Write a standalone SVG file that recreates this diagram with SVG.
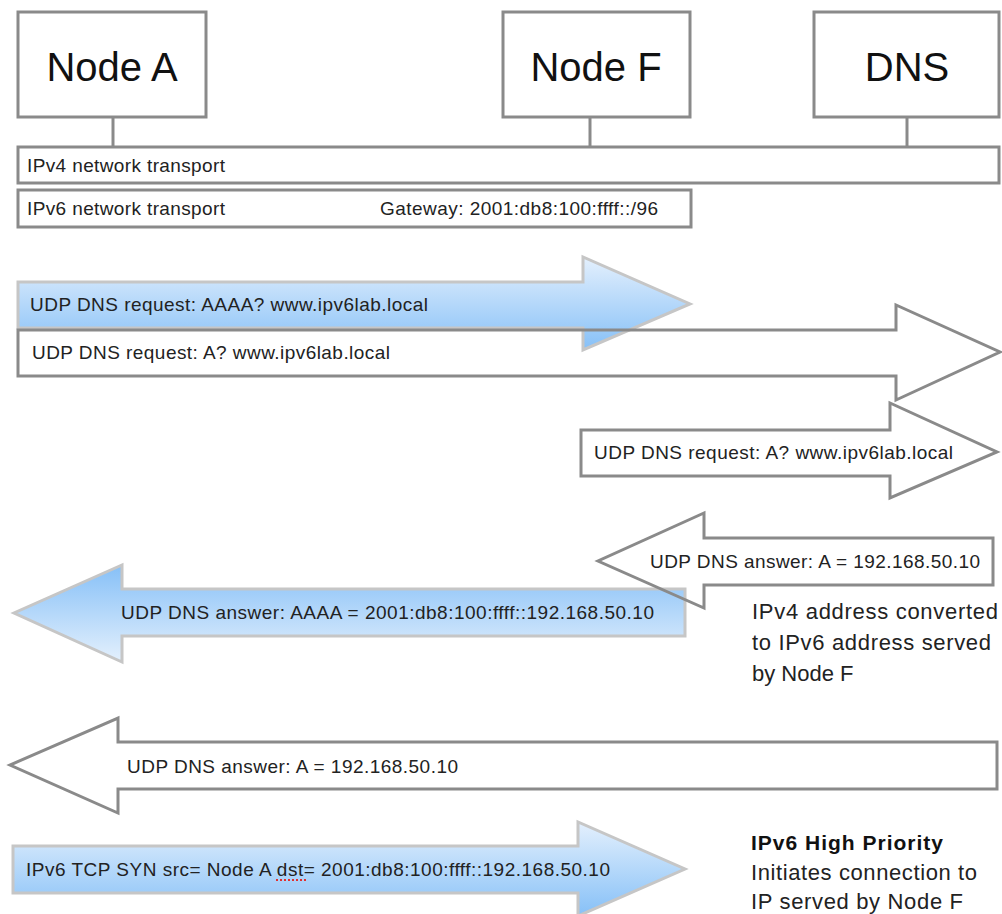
<svg xmlns="http://www.w3.org/2000/svg" width="1002" height="914" viewBox="0 0 1002 914">
<style>
.box{fill:#fff;stroke:#8a8a8a;stroke-width:3}
.wire{stroke:#8a8a8a;stroke-width:3;fill:none}
.warrow{fill:none;stroke:#8a8a8a;stroke-width:3;stroke-linejoin:miter}
.barrow{stroke:#c6c6c6;stroke-width:3;stroke-linejoin:miter}
.big{font-family:"Liberation Sans",Arial,sans-serif;font-size:40px;fill:#111}
.t{font-family:"Liberation Sans",Arial,sans-serif;font-size:19px;fill:#222}
.n{font-family:"Liberation Sans",Arial,sans-serif;font-size:22px;fill:#222}
.nb{font-family:"Liberation Sans",Arial,sans-serif;font-size:21px;font-weight:bold;fill:#111}
</style>
<defs>
<linearGradient id="gDown" x1="0" y1="0" x2="0" y2="1">
<stop offset="0" stop-color="#e4f0fd"/>
<stop offset="1" stop-color="#86c0f7"/>
</linearGradient>
<linearGradient id="gUp" x1="0" y1="0" x2="0" y2="1">
<stop offset="0" stop-color="#86c0f7"/>
<stop offset="1" stop-color="#e4f0fd"/>
</linearGradient>
</defs>

<g id="connectors">
<line class="wire" x1="113" y1="117" x2="113" y2="147"/>
<line class="wire" x1="590" y1="117" x2="590" y2="147"/>
<line class="wire" x1="907" y1="117" x2="907" y2="147"/>
</g>

<g id="nodeA">
<rect class="box" x="18" y="12" width="188" height="105"/>
<text class="big" x="112" y="81" text-anchor="middle">Node A</text>
</g>
<g id="nodeF">
<rect class="box" x="503" y="12" width="187" height="105"/>
<text class="big" x="596" y="81" text-anchor="middle">Node F</text>
</g>
<g id="dns">
<rect class="box" x="814" y="12" width="185" height="105"/>
<text class="big" x="907" y="81" text-anchor="middle">DNS</text>
</g>

<g id="ipv4">
<rect class="box" x="18" y="147" width="981" height="36"/>
<text class="t" x="27" y="172" textLength="198">IPv4 network transport</text>
</g>
<g id="ipv6">
<rect class="box" x="18" y="190" width="673" height="37"/>
<text class="t" x="27" y="215" textLength="198">IPv6 network transport</text>
<text class="t" x="380" y="215" textLength="278">Gateway: 2001:db8:100:ffff::/96</text>
</g>

<g id="msg1">
<path class="barrow" fill="url(#gDown)" d="M18,282 H583 V257 L690,304 L583,350 V328 H18 Z"/>
<text class="t" x="30" y="311" textLength="398">UDP DNS request: AAAA? www.ipv6lab.local</text>
</g>
<g id="msg2">
<path class="warrow" d="M18,330 H896 V305 L1000,352 L896,400 V376 H18 Z"/>
<text class="t" x="32" y="359" textLength="358">UDP DNS request: A? www.ipv6lab.local</text>
</g>
<g id="msg3">
<path class="warrow" d="M581,430 H890 V403 L997,452 L890,498 V476 H581 Z"/>
<text class="t" x="594" y="459" textLength="359">UDP DNS request: A? www.ipv6lab.local</text>
</g>

<g id="msg5">
<path class="barrow" fill="url(#gUp)" d="M685,589 H122 V565 L14,613 L122,662 V636 H685 Z"/>
<text class="t" x="121" y="619" textLength="533">UDP DNS answer: AAAA = 2001:db8:100:ffff::192.168.50.10</text>
</g>
<g id="msg4">
<path class="warrow" d="M993,538 H704 V513 L598,561 L704,608 V585 H993 Z"/>
<text class="t" x="650" y="568" textLength="330">UDP DNS answer: A = 192.168.50.10</text>
</g>
<g id="note1">
<text class="n" x="752" y="619" textLength="246">IPv4 address converted</text>
<text class="n" x="752" y="650" textLength="239">to IPv6 address served</text>
<text class="n" x="752" y="681">by Node F</text>
</g>

<g id="msg6">
<path class="warrow" d="M997,742 H118 V718 L10,765 L118,813 V789 H997 Z"/>
<text class="t" x="127" y="773" textLength="331">UDP DNS answer: A = 192.168.50.10</text>
</g>
<g id="msg7">
<path class="barrow" fill="url(#gDown)" d="M13,846 H578 V822 L685,869 L578,916 V893 H13 Z"/>
<text class="t" x="26" y="876" textLength="584">IPv6 TCP SYN src= Node A dst= 2001:db8:100:ffff::192.168.50.10</text>
<line x1="276" y1="880" x2="306" y2="880" stroke="#e03030" stroke-width="2" stroke-dasharray="2,2"/>
</g>
<g id="note2">
<text class="nb" x="751" y="850" textLength="192">IPv6 High Priority</text>
<text class="n" x="751" y="880" textLength="226">Initiates connection to</text>
<text class="n" x="751" y="909" textLength="212">IP served by Node F</text>
</g>
</svg>
